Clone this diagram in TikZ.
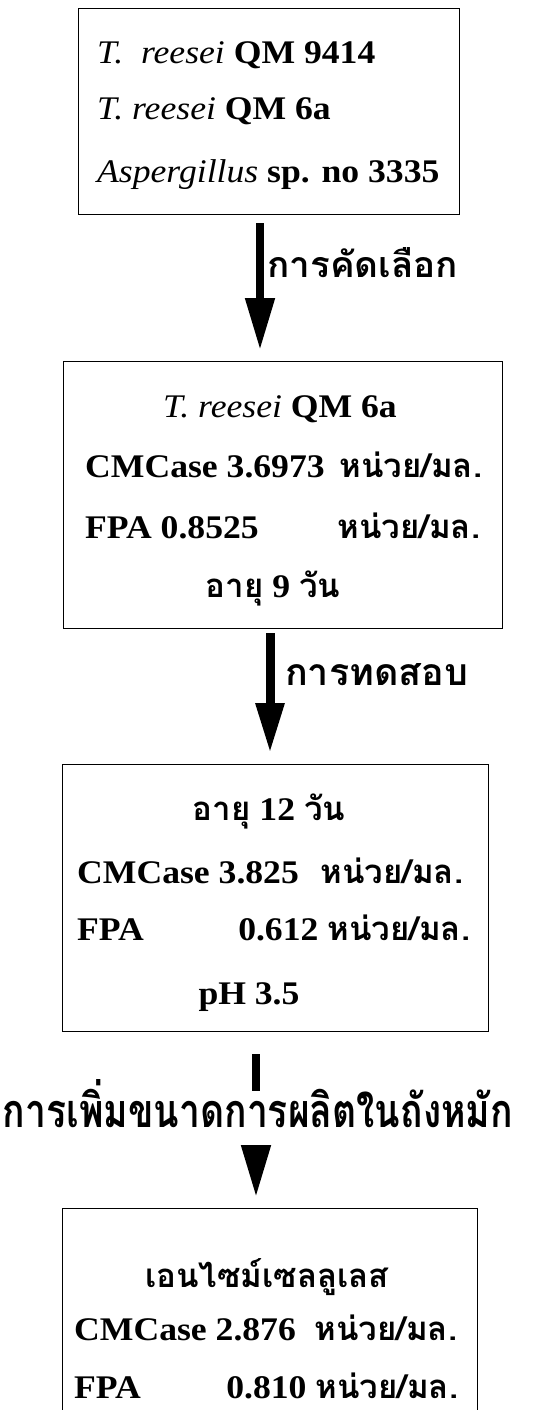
\documentclass[tikz,border=0pt]{standalone}
\usepackage{fontspec}
\setmainfont{Liberation Serif}[FakeStretch=1.08]
\newfontfamily\thaifont[Script=Thai]{Loma}
\usetikzlibrary{arrows.meta}
\newcommand\tht[1]{{\thaifont\bfseries #1}}
\newcommand\lbltext[3]{\resizebox{#1}{#2}{\thaifont\bfseries #3}}
\begin{document}
\begin{tikzpicture}[x=1pt,y=-1pt,
  box/.style={draw,line width=1.3pt,inner sep=0pt,anchor=north west},
  txt/.style={inner sep=0pt,font=\fontsize{33pt}{38pt}\selectfont\bfseries},
  lbl/.style={inner sep=0pt,font=\fontsize{38pt}{44pt}\selectfont},
  bigarrow/.style={line width=8pt,-{Triangle[width=28pt,length=52pt]}}]
\useasboundingbox (0,0) rectangle (533,1410);
\clip (0,0) rectangle (533,1410);
% boxes
\node[box,minimum width=381pt,minimum height=206pt] (b1) at (78,8) {};
\node[box,minimum width=439pt,minimum height=267pt] (b2) at (63,361) {};
\node[box,minimum width=426pt,minimum height=267pt] (b3) at (62,764) {};
\node[box,minimum width=415pt,minimum height=260pt] (b4) at (62,1208) {};
% box 1 text
\node[txt,anchor=base west] (t11) at (97,64) {{\mdseries\itshape T.}\ \ {\mdseries\itshape reesei} QM 9414};
\node[txt,anchor=base west] (t12) at (97,120) {{\mdseries\itshape T. reesei} QM 6a};
\node[txt,anchor=base west] (t13) at (97,182) {{\mdseries\itshape Aspergillus} sp. no 3335};
% box 2 text
\node[txt,anchor=base] (t21) at (280,417) {{\mdseries\itshape T. reesei} QM 6a};
\node[txt,anchor=base west] (t22) at (85,477) {\hbox to 397pt{CMCase 3.6973\hfill\tht{หน่วย/มล.}}};
\node[txt,anchor=base west] (t23) at (85,538) {\hbox to 395pt{FPA 0.8525\hfill\tht{หน่วย/มล.}}};
\node[txt,anchor=base] (t24) at (273,597) {\tht{อายุ} 9 \tht{วัน}};
% box 3 text
\node[txt,anchor=base] (t31) at (269,820) {\tht{อายุ} 12 \tht{วัน}};
\node[txt,anchor=base west] (t32) at (77,883) {\hbox to 386pt{CMCase 3.825\hfill\tht{หน่วย/มล.}}};
\node[txt,anchor=base west] (t33) at (77,940) {\hbox to 393pt{FPA\hfill 0.612 \tht{หน่วย/มล.}}};
\node[txt,anchor=base] (t34) at (249,1004) {pH 3.5};
% box 4 text
\node[txt,anchor=base] (t41) at (267,1287) {\tht{เอนไซม์เซลลูเลส}};
\node[txt,anchor=base west] (t42) at (74,1340) {\hbox to 383pt{CMCase 2.876\hfill\tht{หน่วย/มล.}}};
\node[txt,anchor=base west] (t43) at (74,1398) {\hbox to 384pt{FPA\hfill 0.810 \tht{หน่วย/มล.}}};
% arrows
\coordinate (ax1) at (260,0);
\coordinate (ax2) at (270,0);
\coordinate (ax3) at (256,0);
\draw[bigarrow,shorten <=8pt,shorten >=11pt] (b1.south -| ax1) -- (b2.north -| ax1);
\draw[line width=9pt,-{Triangle[width=27pt,length=50pt]},shorten <=4pt,shorten >=11pt] (b2.south -| ax2) -- (b3.north -| ax2);
\draw[bigarrow,shorten <=22pt,shorten >=11pt] (b3.south -| ax3) -- (b4.north -| ax3);
% labels
\node[lbl,anchor=base west] (l1) at (267,277) {\lbltext{191pt}{30pt}{การคัดเลือก}};
\node[lbl,anchor=base west] (l2) at (285,685) {\lbltext{183pt}{22pt}{การทดสอบ}};
\node[lbl,anchor=base,fill=white,text height=36pt,text depth=18pt] (l3) at (258,1127) {\lbltext{510pt}{48pt}{การเพิ่มขนาดการผลิตในถังหมัก}};
\end{tikzpicture}
\end{document}
